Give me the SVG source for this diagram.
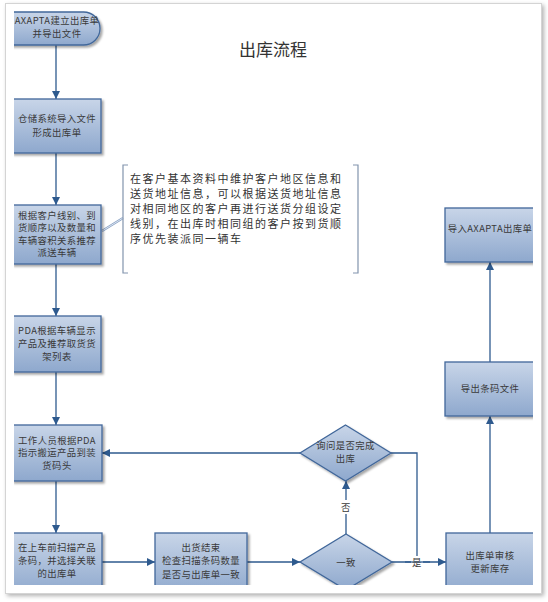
<svg xmlns="http://www.w3.org/2000/svg" width="548" height="602" viewBox="0 0 548 602">
<defs>
<linearGradient id="g" x1="0" y1="0" x2="0" y2="1">
<stop offset="0" stop-color="#c8d5e8"/>
<stop offset="1" stop-color="#8ea8cd"/>
</linearGradient>
<filter id="sh" x="-10%" y="-10%" width="130%" height="130%">
<feDropShadow dx="2" dy="2" stdDeviation="1" flood-color="#000" flood-opacity="0.35"/>
</filter>
<filter id="psh" x="-5%" y="-5%" width="110%" height="110%">
<feDropShadow dx="2" dy="2" stdDeviation="2" flood-color="#000" flood-opacity="0.3"/>
</filter>
<clipPath id="clip"><rect x="14" y="8" width="519" height="577"/></clipPath>
<marker id="arr" viewBox="0 0 10 10" refX="10" refY="5" markerWidth="9" markerHeight="8" markerUnits="userSpaceOnUse" orient="auto">
<path d="M0,0 L10,5 L0,10 z" fill="#2e5a8e"/>
</marker>
</defs>
<style>
.box{fill:url(#g);stroke:#41679a;stroke-width:1.3;filter:url(#sh)}
.t{font-family:"Noto Sans CJK SC","Liberation Sans",sans-serif;font-size:9.4px;letter-spacing:0.4px;fill:#3a3a3a;text-anchor:middle}
.a{font-family:"Noto Sans CJK SC","Liberation Serif",serif;font-size:11px;letter-spacing:1.5px;fill:#333}
.c{fill:none;stroke:#2e5a8e;stroke-width:1.3}
.ca{fill:none;stroke:#2e5a8e;stroke-width:1.3;marker-end:url(#arr)}
.br{fill:none;stroke:#8294ad;stroke-width:1.2}
</style>
<rect x="0" y="0" width="548" height="602" fill="#fff"/>
<rect x="5.5" y="3.5" width="536" height="590" fill="#fff" stroke="#d4d4d4" stroke-width="1" filter="url(#psh)"/>
<text x="273" y="56" style="font-family:'Noto Sans CJK SC','Liberation Sans',sans-serif;font-size:17px;fill:#333;text-anchor:middle">出库流程</text>
<g clip-path="url(#clip)">
<g id="connectors">
<line class="ca" x1="56" y1="45" x2="56" y2="99"/>
<line class="ca" x1="56" y1="153" x2="56" y2="205"/>
<line class="ca" x1="56" y1="264" x2="56" y2="316"/>
<line class="ca" x1="56" y1="372" x2="56" y2="425"/>
<line class="ca" x1="56" y1="481" x2="56" y2="533"/>
<line class="ca" x1="102" y1="562" x2="155" y2="562"/>
<line class="ca" x1="247" y1="562" x2="300" y2="562"/>
<line class="ca" x1="346" y1="534" x2="346" y2="481"/>
<line class="ca" x1="300" y1="453" x2="102" y2="453"/>
<polyline class="c" points="391,453 417,453 417,562"/>
<line class="ca" x1="392" y1="562" x2="446" y2="562"/>
<line class="ca" x1="490" y1="533" x2="490" y2="416"/>
<line class="ca" x1="490" y1="362" x2="490" y2="262"/>
<line x1="102" y1="231" x2="123" y2="218" stroke="#8aa3c6" stroke-width="2.2"/>
<line x1="102" y1="231" x2="123" y2="218" stroke="#fff" stroke-width="0.7"/>
<rect x="339" y="500" width="14" height="14" fill="#fff"/>
<text class="t" x="346" y="511">否</text>
<rect x="411" y="556" width="12" height="12" fill="#fff"/>
<line x1="405" y1="562" x2="430" y2="562" stroke="#2e5a8e" stroke-width="1.3"/>
<text class="t" x="417" y="566">是</text>
</g>
<g id="n1">
<rect class="box" x="-10" y="12" width="110" height="33" rx="16.5"/>
<text class="t" x="57" y="23.5">AXAPTA建立出库单</text>
<text class="t" x="57" y="36.5">并导出文件</text>
</g>
<g id="n2">
<rect class="box" x="12" y="99" width="89" height="54"/>
<text class="t" x="57" y="122">仓储系统导入文件</text>
<text class="t" x="57" y="135.5">形成出库单</text>
</g>
<g id="n3">
<rect class="box" x="12" y="205" width="89" height="59"/>
<text class="t" x="57" y="218.5">根据客户线别、到</text>
<text class="t" x="57" y="231">货顺序以及数量和</text>
<text class="t" x="57" y="243.5">车辆容积关系推荐</text>
<text class="t" x="57" y="256">派送车辆</text>
</g>
<g id="n4">
<rect class="box" x="12" y="316" width="89" height="56"/>
<text class="t" x="57" y="333.5">PDA根据车辆显示</text>
<text class="t" x="57" y="346.5">产品及推荐取货货</text>
<text class="t" x="57" y="360">架列表</text>
</g>
<g id="n5">
<rect class="box" x="12" y="425" width="90" height="56"/>
<text class="t" x="57" y="443.5">工作人员根据PDA</text>
<text class="t" x="57" y="456">指示搬运产品到装</text>
<text class="t" x="57" y="468.5">货码头</text>
</g>
<g id="n6">
<rect class="box" x="12" y="533" width="90" height="62"/>
<text class="t" x="57" y="550.5">在上车前扫描产品</text>
<text class="t" x="57" y="564">条码，并选择关联</text>
<text class="t" x="57" y="577">的出库单</text>
</g>
<g id="n7">
<rect class="box" x="155" y="533" width="92" height="62"/>
<text class="t" x="201" y="550.5">出货结束</text>
<text class="t" x="201" y="564">检查扫描条码数量</text>
<text class="t" x="201" y="577.5">是否与出库单一致</text>
</g>
<g id="d1">
<polygon class="box" points="346,534 392,562 346,590 300,562"/>
<text class="t" x="346" y="565.5">一致</text>
</g>
<g id="d2">
<polygon class="box" points="345.5,425 391,453 345.5,481 300,453"/>
<text class="t" x="345.5" y="448.5">询问是否完成</text>
<text class="t" x="345.5" y="461.5">出库</text>
</g>
<g id="n8">
<rect class="box" x="446" y="533" width="89" height="62"/>
<text class="t" x="490" y="558.5">出库单审核</text>
<text class="t" x="490" y="571.5">更新库存</text>
</g>
<g id="n9">
<rect class="box" x="445" y="362" width="90" height="54"/>
<text class="t" x="490" y="392">导出条码文件</text>
</g>
<g id="n10">
<rect class="box" x="445" y="208" width="90" height="54"/>
<text class="t" x="490" y="232">导入AXAPTA出库单</text>
</g>
<g id="note">
<path class="br" d="M128,165 L123,165 L123,273 L128,273"/>
<path class="br" d="M353,165 L358,165 L358,273 L353,273"/>
<text class="a" x="130" y="183">在客户基本资料中维护客户地区信息和</text>
<text class="a" x="130" y="198">送货地址信息，可以根据送货地址信息</text>
<text class="a" x="130" y="213">对相同地区的客户再进行送货分组设定</text>
<text class="a" x="130" y="228">线别，在出库时相同组的客户按到货顺</text>
<text class="a" x="130" y="243">序优先装派同一辆车</text>
</g>
</g>
</svg>
